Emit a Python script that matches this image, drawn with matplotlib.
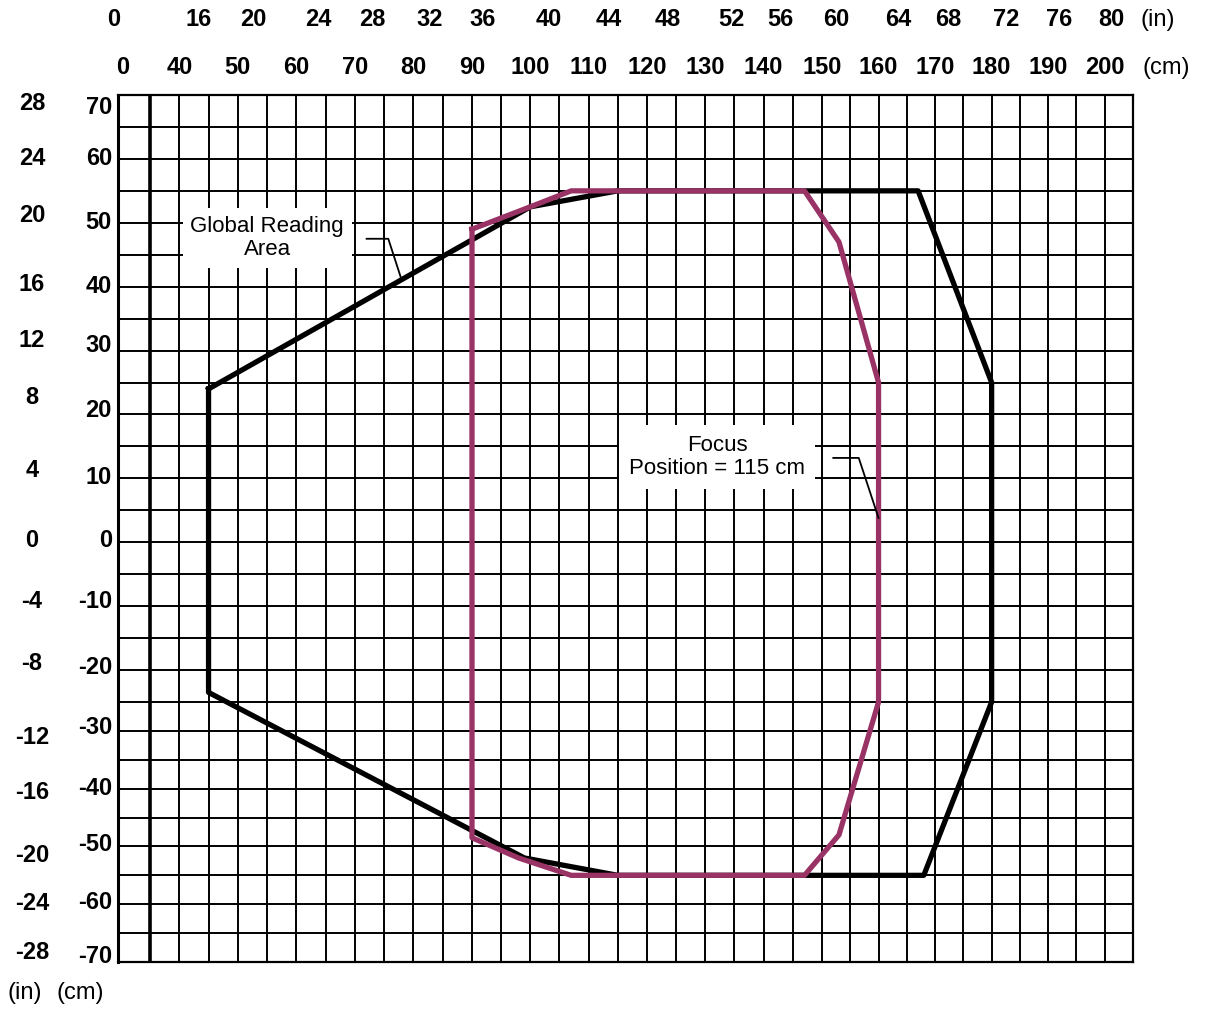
import numpy as np
import matplotlib
matplotlib.use('Agg')
from matplotlib import pyplot as plt
from matplotlib import transforms

# reading distance axis (top), cm and inch labels
cm_x_labels = [0, 40, 50, 60, 70, 80, 90, 100, 110, 120, 130, 140, 150, 160, 170, 180, 190, 200]
in_x_labels = [0, 16, 20, 24, 28, 32, 36, 40, 44, 48, 52, 56, 60, 64, 68, 72, 76, 80]

# reading width axis (left), cm and inch labels
cm_y_labels = [70, 60, 50, 40, 30, 20, 10, 0, -10, -20, -30, -40, -50, -60, -70]
in_y_labels = [28, 24, 20, 16, 12, 8, 4, 0, -4, -8, -12, -16, -20, -24, -28]

# global reading area outline (cm)
global_x = [45, 100, 115, 167, 180, 180, 168, 115, 99, 45, 45]
global_y = [24, 52.5, 55, 55, 25, -25, -55, -55, -52, -23.5, 24]

# reading area at focus position 115 cm (cm)
focus_x = [90, 100, 107, 147, 153, 160, 160, 153, 147, 107, 98, 90, 90]
focus_y = [49, 52.5, 55, 55, 47, 25, -25, -48, -55, -55, -52, -48.5, 49]

W, H = 1205, 1009
FS = 17
MAGENTA = '#993366'

# the printed grid is not quite uniform, so use a piecewise scale (cm -> px)
x_knots, x_px = [30, 35, 90, 150, 205], [118, 150, 472, 822, 1133]
y_knots, y_px = [-70, -25, 70], [H - 962, H - 702, H - 95]


def piecewise(v, a, b):
    v = np.asarray(v, float)
    out = np.interp(v, a, b)
    out = np.where(v < a[0], b[0] + (v - a[0]) * (b[1] - b[0]) / (a[1] - a[0]), out)
    out = np.where(v > a[-1], b[-1] + (v - a[-1]) * (b[-1] - b[-2]) / (a[-1] - a[-2]), out)
    return out


fig = plt.figure(figsize=(W / 100, H / 100), dpi=100)
ax = fig.add_axes([118 / W, 1 - 962 / H, (1133 - 118) / W, (962 - 95) / H])

ax.set_xscale('function', functions=(lambda v: piecewise(v, x_knots, x_px),
                                     lambda v: piecewise(v, x_px, x_knots)))
ax.set_yscale('function', functions=(lambda v: piecewise(v, y_knots, y_px),
                                     lambda v: piecewise(v, y_px, y_knots)))
ax.set_xlim(30, 205)
ax.set_ylim(-70, 70)

ax.set_xticks(np.arange(30, 206, 5))
ax.set_yticks(np.arange(-70, 71, 5))
ax.xaxis.set_minor_locator(matplotlib.ticker.NullLocator())
ax.yaxis.set_minor_locator(matplotlib.ticker.NullLocator())
ax.tick_params(length=0, labelbottom=False, labelleft=False)
ax.grid(True, color='black', linewidth=1.4)
for s in ax.spines.values():
    s.set_linewidth(1.6)
ax.spines['left'].set_linewidth(2.2)
ax.axvline(35, color='black', linewidth=2.6)

ax.plot(global_x, global_y, color='black', linewidth=3.8, zorder=3)
ax.plot(focus_x, focus_y, color=MAGENTA, linewidth=3.8, zorder=4)

# callouts
box = dict(boxstyle='square,pad=0.35', fc='white', ec='none')
ax.text(55, 47.6, 'Global Reading\nArea', ha='center', va='center', fontsize=16,
        family='Liberation Sans', bbox=box, zorder=5, linespacing=1.15)
ax.plot([72, 75.7, 78], [47.5, 47.5, 41], color='black', linewidth=1.3, zorder=5)
ax.text(132, 13.3, 'Focus\nPosition = 115 cm', ha='center', va='center', fontsize=16,
        family='Liberation Sans', bbox=dict(boxstyle='square,pad=0.45', fc='white', ec='none'),
        zorder=5, linespacing=1.15)
ax.plot([152, 156.5, 160], [13.2, 13.2, 3.8], color='black', linewidth=1.3, zorder=5)

# axis labels drawn as text
top = transforms.blended_transform_factory(ax.transData, fig.transFigure)
left = transforms.blended_transform_factory(fig.transFigure, ax.transData)
bold = dict(fontsize=FS, fontweight='bold', family='Liberation Sans')
reg = dict(fontsize=FS, family='Liberation Sans')

in_x_pos = [29.3, 43.3, 52.7, 63.8, 73.0, 82.8, 91.8, 103.1, 113.4, 123.5,
            134.4, 142.8, 152.6, 163.4, 172.4, 182.5, 192.0, 201.2]
for v, xp in zip(in_x_labels, in_x_pos):
    ax.text(xp, 1 - 20 / H, str(v), ha='center', va='center', transform=top, **bold)
for v in cm_x_labels:
    xp = 30.7 if v == 0 else v
    ax.text(xp, 1 - 68 / H, str(v), ha='center', va='center', transform=top, **bold)
ax.text(1140 / W, 1 - 20 / H, '(in)', ha='left', va='center', transform=fig.transFigure, **reg)
ax.text(1143 / W, 1 - 68 / H, '(cm)', ha='left', va='center', transform=fig.transFigure, **reg)

cm_y_pos = [68.1, 60, 50, 40, 30.8, 20.7, 10.2, 0.2, -9.2, -19.6, -29.4, -40, -49.6, -59.7, -69.1]
for v, yp in zip(cm_y_labels, cm_y_pos):
    ax.text(112 / W, yp, str(v), ha='right', va='center', transform=left, **bold)
in_y_pos = [68.6, 60.1, 51.1, 40.3, 31.5, 22.6, 11.3, 0.2, -9.3, -18.9, -31.2, -40.6, -51.5, -59.8, -68.4]
for v, yp in zip(in_y_labels, in_y_pos):
    ax.text(32 / W, yp, str(v), ha='center', va='center', transform=left, **bold)
ax.text(25 / W, 1 - 993 / H, '(in)', ha='center', va='center', transform=fig.transFigure, **reg)
ax.text(80 / W, 1 - 993 / H, '(cm)', ha='center', va='center', transform=fig.transFigure, **reg)

plt.savefig('out.png', dpi=100)
